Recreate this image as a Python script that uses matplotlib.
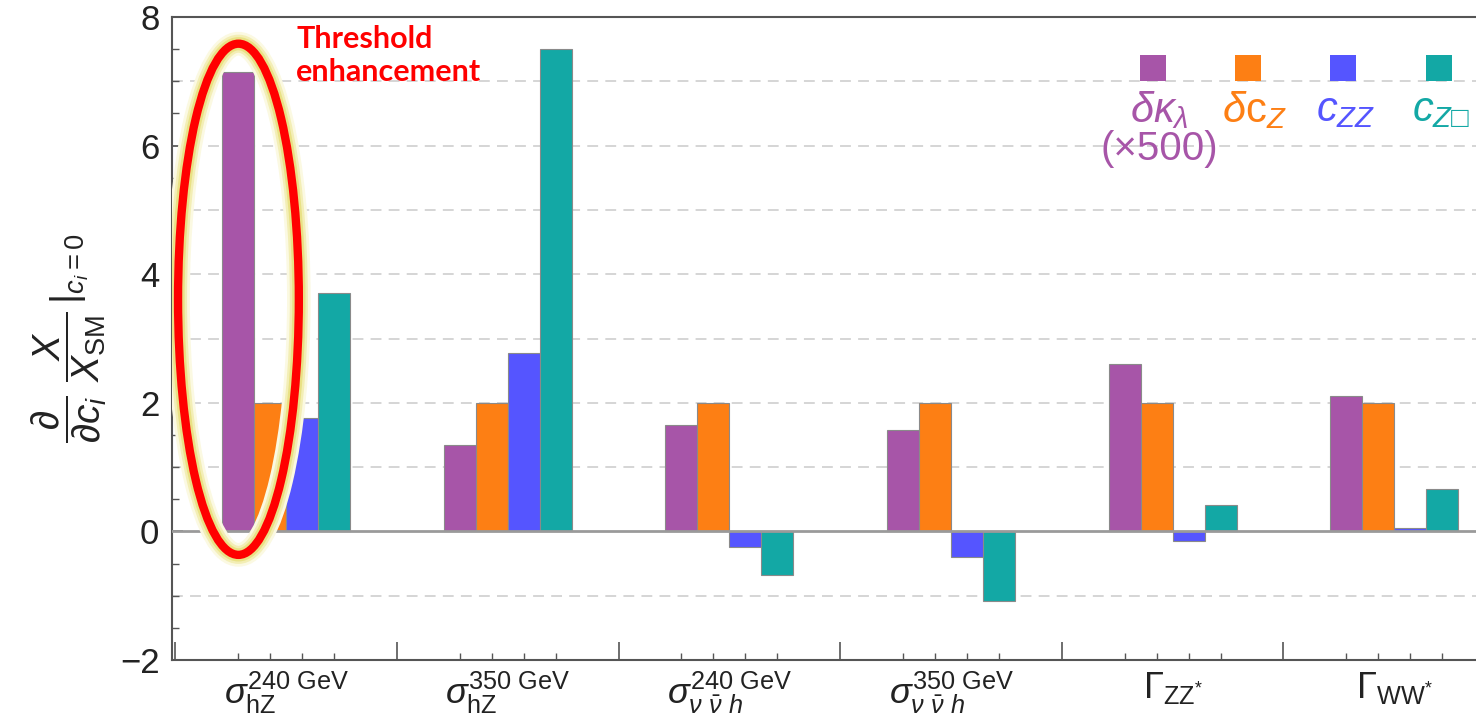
#!/usr/bin/env python3

import matplotlib
matplotlib.use("Agg")
import matplotlib.pyplot as plt
import matplotlib.patheffects as pe
from matplotlib.patches import Ellipse
import numpy as np

# observables on the x axis
groups = [
    r"$\sigma_{\mathrm{hZ}}^{\mathrm{240\ GeV}}$",
    r"$\sigma_{\mathrm{hZ}}^{\mathrm{350\ GeV}}$",
    r"$\sigma_{\nu\ \bar{\nu}\ h}^{\mathrm{240\ GeV}}$",
    r"$\sigma_{\nu\ \bar{\nu}\ h}^{\mathrm{350\ GeV}}$",
    r"$\Gamma_{\mathrm{ZZ}^{*}}$",
    r"$\Gamma_{\mathrm{WW}^{*}}$",
]

# derivative of X/X_SM w.r.t. each coefficient (dk_lambda scaled by 500)
dkl = [7.14, 1.34, 1.66, 1.57, 2.61, 2.11]
dcz = [2.0, 2.0, 2.0, 2.0, 2.0, 2.0]
czz = [1.76, 2.78, -0.25, -0.40, -0.15, 0.06]
czb = [3.71, 7.50, -0.68, -1.08, 0.41, 0.66]

series = [dkl, dcz, czz, czb]
names = [r"$\delta\kappa_{\lambda}$", r"$\delta\mathrm{c}_{Z}$",
         r"$c_{ZZ}$", "$c_{Z\u25a1}$"]
colors = ["#A755A8", "#FD7F14", "#5555FF", "#13A8A5"]

plt.rcParams["font.family"] = ["Liberation Sans", "DejaVu Sans"]
plt.rcParams["mathtext.fontset"] = "custom"
plt.rcParams["mathtext.rm"] = "Liberation Sans"
plt.rcParams["mathtext.it"] = "Liberation Sans:italic"
plt.rcParams["mathtext.bf"] = "Liberation Sans:bold"
plt.rcParams["mathtext.sf"] = "Liberation Sans"
plt.rcParams["mathtext.fallback"] = "stixsans"

fig = plt.figure(figsize=(14.76, 7.21), dpi=100)
ax = fig.add_axes([0.1165, 0.0846, 0.9032, 0.8918])

bw = 0.1444
x = np.arange(len(groups)) + 0.5
for k, vals in enumerate(series):
    ax.bar(x + (k - 1.5) * bw, vals, bw, color=colors[k],
           edgecolor="#8a8a8a", linewidth=0.8, zorder=3)

ax.axhline(0, color="#9a9a9a", linewidth=2, zorder=4)

ax.set_xlim(-0.015, 6)
ax.set_ylim(-2, 8)

# y ticks
ax.set_yticks(np.arange(-2, 9, 2))
ax.set_yticklabels(["\u22122", "0", "2", "4", "6", "8"])
ax.set_yticks(np.arange(-2, 8.01, 0.5), minor=True)
ax.tick_params(axis="y", which="major", direction="in", length=8, width=1.2,
               colors="#555555", labelcolor="#222222", labelsize=25, pad=9)
ax.tick_params(axis="y", which="minor", direction="in", length=5, width=1,
               colors="#555555")

# gridlines at every integer except the axis limits and zero
for yv in range(-1, 8):
    if yv == 0:
        continue
    ax.axhline(yv, color="#d2d2d2", linewidth=1.3, linestyle=(0, (6, 4)),
               zorder=1)

# x: labels at group centres, small ticks at bar centres
ax.set_xticks(x)
ax.set_xticklabels(groups)
ax.tick_params(axis="x", which="major", length=0, labelsize=26, pad=7,
               labelcolor="#222222")
minor_x = np.concatenate([x + (k - 1.5) * bw for k in range(4)])
ax.set_xticks(minor_x, minor=True)
ax.tick_params(axis="x", which="minor", direction="in", length=5, width=1,
               colors="#555555")

# group boundary ticks
sec = ax.secondary_xaxis("bottom")
sec.set_xticks(np.arange(0, 7))
sec.set_xticklabels([])
sec.tick_params(direction="in", length=13, width=1.2, colors="#555555")
sec.spines["bottom"].set_visible(False)

for s in ax.spines.values():
    s.set_color("#555555")
    s.set_linewidth(1.5)

ax.set_ylabel(r"$\dfrac{\partial}{\partial c_i}\ \dfrac{X}{X_{\mathrm{SM}}}\,|_{c_i=0}$",
              fontsize=28, color="#222222")
ax.yaxis.set_label_coords(-0.047, 0.5)

# legend: squares with labels underneath
leg_x = [4.41, 4.84, 5.27, 5.70]
lab_x = [4.44, 4.87, 5.28, 5.71]
for k in range(4):
    ax.scatter([leg_x[k]], [7.2], marker="s", s=360, color=colors[k],
               linewidths=0, zorder=5)
    ax.text(lab_x[k], 6.55, names[k], color=colors[k], fontsize=30,
            ha="center", va="center", zorder=5)
ax.text(4.44, 5.95, "(\u00d7500)", color=colors[0], fontsize=29,
        ha="center", va="center", zorder=5)

# highlight of the threshold enhancement
ell = Ellipse((0.285, 3.61), 0.545, 7.95, fill=False, edgecolor="#ff0000",
              linewidth=6, zorder=6,
              path_effects=[pe.Stroke(linewidth=17, foreground="#fbf9e2"),
                            pe.Stroke(linewidth=13, foreground="#f3eeb5"),
                            pe.Stroke(linewidth=9.5, foreground="#e9e184"),
                            pe.Normal()])
ax.add_patch(ell)
ax.text(0.545, 7.88, "Threshold\nenhancement", color="#ff0000", fontsize=22,
        fontweight="bold", family=["Lato", "DejaVu Sans"], ha="left", va="top",
        linespacing=1.25, zorder=6)

fig.savefig("out.png", dpi=100)
